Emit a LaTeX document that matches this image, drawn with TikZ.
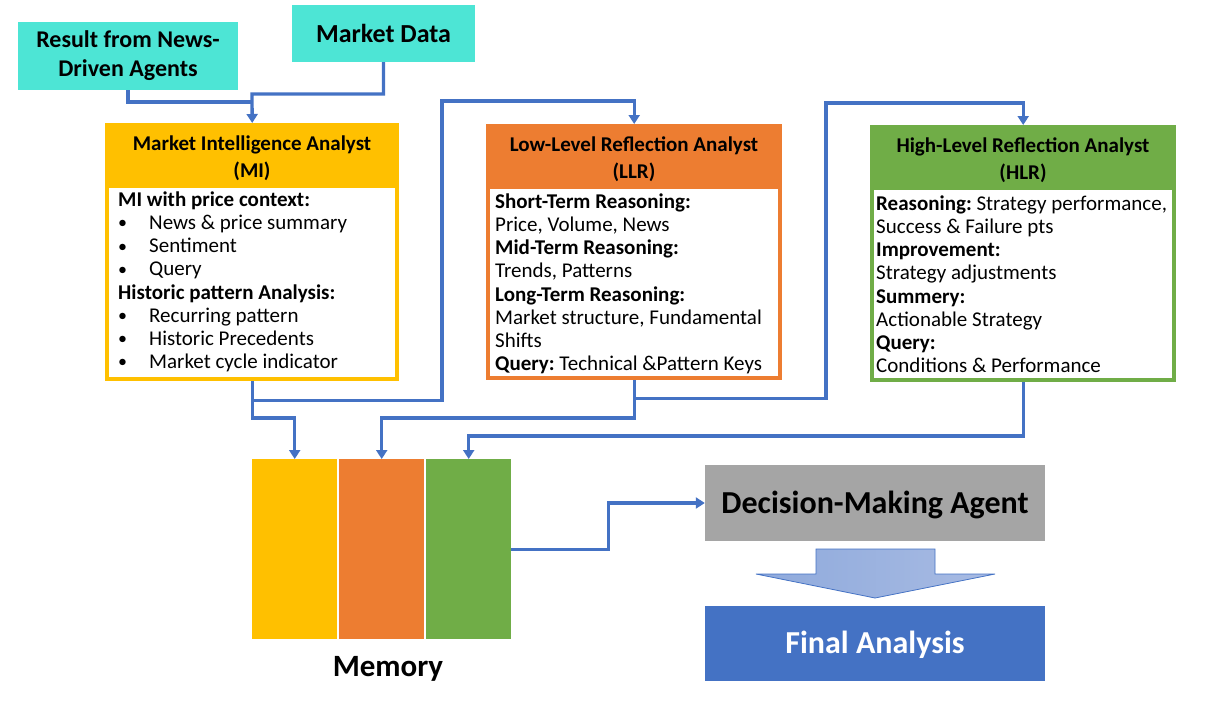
\documentclass[tikz,border=0pt]{standalone}
\usepackage{fontspec}
\setmainfont{Carlito}
\usetikzlibrary{arrows.meta}
\definecolor{Turq}{RGB}{77,229,213}
\definecolor{MIYellow}{RGB}{255,192,0}
\definecolor{LLROrange}{RGB}{237,125,49}
\definecolor{HLRGreen}{RGB}{112,173,71}
\definecolor{LinkBlue}{RGB}{68,114,196}
\definecolor{AgentGray}{RGB}{165,165,165}
\definecolor{ArrowLeft}{RGB}{143,170,220}
\definecolor{ArrowRight}{RGB}{168,187,227}
\newcommand{\bodyfont}{\fontsize{21}{23.1}\selectfont\frenchspacing}
\newcommand{\titlefont}{\fontsize{21}{26.6}\selectfont\bfseries}
\newcommand{\mibullet}{\makebox[31pt][l]{\raisebox{0.8pt}{\fontsize{18}{18}\selectfont\textbullet}}}

\begin{document}
\begin{tikzpicture}[x=1pt,y=-1pt,
        flow/.style={LinkBlue, line width=3.3pt, -{Triangle[width=11pt,length=9pt]}},
        link/.style={LinkBlue, line width=3.3pt},
        inbox/.style={fill=Turq, inner sep=0pt, align=center},
        panel/.style={inner sep=0pt, anchor=north west},
        title/.style={anchor=north, inner sep=0pt, align=center, font=\titlefont},
        body/.style={anchor=north west, inner sep=0pt, align=left, font=\bodyfont},
        bar/.style={inner sep=0pt, anchor=north west, minimum width=85pt, minimum height=180pt},
        agent/.style={inner sep=0pt, minimum width=340pt, minimum height=76pt, text height=20pt, text depth=0pt, font=\fontsize{32}{36}\selectfont\bfseries}]
    \useasboundingbox (0,0) rectangle (1210,720);

    % inputs
    \node[inbox, minimum width=220pt, minimum height=68pt, font=\fontsize{24}{29}\selectfont\bfseries] (news) at (128,56) {Result from News-\\Driven Agents};
    \node[inbox, minimum width=183pt, minimum height=57pt, font=\fontsize{26}{31}\selectfont\bfseries] (mdata) at (383.5,33.5) {Market Data};

    % analysts
    \node[panel, fill=MIYellow, minimum width=294pt, minimum height=258pt] (mi) at (105,123) {};
    \node[panel, fill=white, minimum width=286pt, minimum height=189pt] (mibody) at (109,188) {};
    \node[title] (mititle) at (252,132.1) {\strut Market Intelligence Analyst\\(MI)};
    \node[body] (mitext) at (118,190.3) {\strut\textbf{MI with price context:}\\
        \mibullet News \& price summary\\
        \mibullet Sentiment\\
        \mibullet Query\\
        \textbf{Historic pattern Analysis:}\\
        \mibullet Recurring pattern\\
        \mibullet Historic Precedents\\
        \mibullet Market cycle indicator};

    \node[panel, fill=LLROrange, minimum width=296pt, minimum height=256pt] (llr) at (486,124) {};
    \node[panel, fill=white, minimum width=288pt, minimum height=187pt] (llrbody) at (490,189) {};
    \node[title] (llrtitle) at (634,133.1) {\strut Low-Level Reflection Analyst\\(LLR)};
    \node[body] (llrtext) at (495,192.3) {\strut\textbf{Short-Term Reasoning:}\\
        Price, Volume, News\\
        \textbf{Mid-Term Reasoning:}\\
        Trends, Patterns\\
        \textbf{Long-Term Reasoning:}\\
        Market structure, Fundamental\\
        Shifts\\
        \textbf{Query:} Technical \&Pattern Keys};

    \node[panel, fill=HLRGreen, minimum width=306pt, minimum height=257pt] (hlr) at (870,125) {};
    \node[panel, fill=white, minimum width=298pt, minimum height=188pt] (hlrbody) at (874,190) {};
    \node[title] (hlrtitle) at (1023,134.1) {\strut High-Level Reflection Analyst\\(HLR)};
    \node[body] (hlrtext) at (876,194.3) {\strut\textbf{Reasoning:} Strategy performance,\\
        Success \& Failure pts\\
        \textbf{Improvement:}\\
        Strategy adjustments\\
        \textbf{Summery:}\\
        Actionable Strategy\\
        \textbf{Query:}\\
        Conditions \& Performance};

    % memory
    \node[bar, fill=MIYellow] (memyel) at (252,459) {};
    \node[bar, fill=LLROrange] (memorg) at (339,459) {};
    \node[bar, fill=HLRGreen] (memgrn) at (426,459) {};
    \node[anchor=base, inner sep=0pt, font=\fontsize{31}{36}\selectfont\bfseries] (memlabel) at (388,676.5) {Memory};

    % decision
    \node[agent, fill=AgentGray] (dec) at (875,503) {Decision-Making Agent};
    \node[agent, fill=LinkBlue, text=white, minimum height=75pt] (final) at (875,643.5) {Final Analysis};
    \shade[left color=ArrowLeft, right color=ArrowRight, draw=LinkBlue, line width=0.8pt]
        (816,549) -- (935,549) -- (935,574) -- (995,574) -- (875,598) -- (756,574) -- (816,574) -- cycle;

    % connectors
    \coordinate (mijoin) at (252,94);
    \coordinate (newsjoin) at (252,102);
    \draw[link] (news.south) |- (newsjoin);
    \draw[flow] (mdata.south) |- (mijoin) -- (mi.north);
    \draw[flow] (mi.south) -- ++(0,19) -| (442,101) -| (llr.north);
    \draw[flow] (mi.south) |- (memyel.north |- 0,418) -- (memyel.north);
    \draw[flow] (llr.south) -- ++(0,18) -| (826,103) -| (hlr.north);
    \draw[flow] (llr.south) |- (memorg.north |- 0,418) -- (memorg.north);
    \draw[flow] (hlr.south) |- (memgrn.north |- 0,436) -- (memgrn.north);
    \draw[flow] (memgrn.east) -- ++(97,0) |- (dec.west);
\end{tikzpicture}
\end{document}
